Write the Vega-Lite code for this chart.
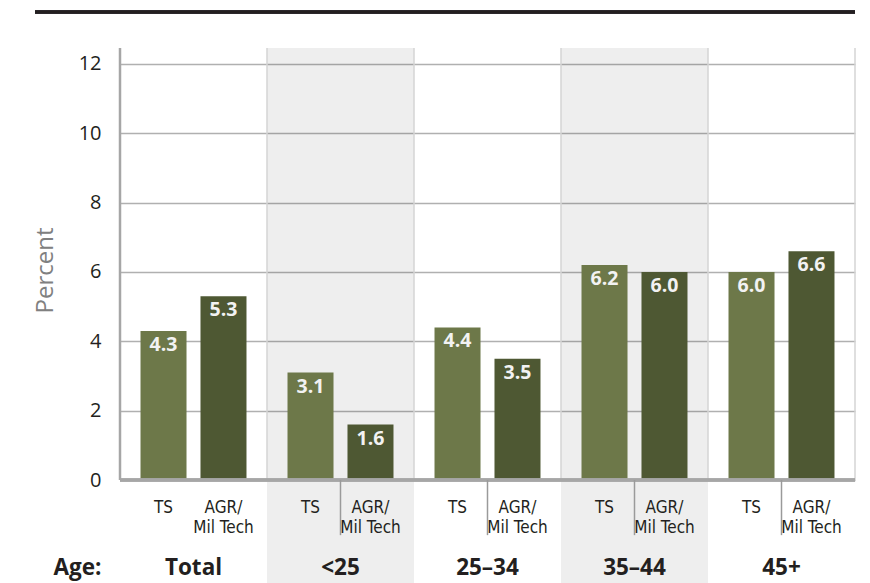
{
  "$schema": "https://vega.github.io/schema/vega-lite/v6.json",
  "width": 735,
  "height": 535,
  "autosize": "none",
  "padding": {"left": 120, "top": 48, "right": 15, "bottom": 0},
  "background": "white",
  "config": {"view": {"stroke": null}},
  "data": {
    "values": [
      {"group": "Total", "series": "TS", "value": 4.3},
      {"group": "Total", "series": "AGR/\nMil Tech", "value": 5.3},
      {"group": "<25", "series": "TS", "value": 3.1},
      {"group": "<25", "series": "AGR/\nMil Tech", "value": 1.6},
      {"group": "25–34", "series": "TS", "value": 4.4},
      {"group": "25–34", "series": "AGR/\nMil Tech", "value": 3.5},
      {"group": "35–44", "series": "TS", "value": 6.2},
      {"group": "35–44", "series": "AGR/\nMil Tech", "value": 6.0},
      {"group": "45+", "series": "TS", "value": 6.0},
      {"group": "45+", "series": "AGR/\nMil Tech", "value": 6.6}
    ]
  },
  "layer": [
    {
      "transform": [{"filter": "(datum.group === '<25' || datum.group === '35–44') && datum.series === 'TS'"}],
      "mark": {"type": "rect", "fill": "#000000", "opacity": 0.067},
      "encoding": {
        "x": {"field": "group", "type": "nominal", "sort": null, "scale": {"domain": ["Total", "<25", "25–34", "35–44", "45+"], "paddingInner": 0, "paddingOuter": 0}, "axis": null},
        "y": {"datum": -2.97},
        "y2": {"datum": 12.46}
      }
    },
    {
      "transform": [{"filter": "datum.group !== 'Total' && datum.series === 'TS'"}],
      "mark": {"type": "rule", "color": "#d4d4d4", "strokeWidth": 1.5},
      "encoding": {
        "x": {"field": "group", "type": "nominal", "bandPosition": 0},
        "y": {"datum": 0},
        "y2": {"datum": 12.46}
      }
    },
    {
      "transform": [{"filter": "datum.group === '45+' && datum.series === 'TS'"}],
      "mark": {"type": "rule", "color": "#d4d4d4", "strokeWidth": 1.5},
      "encoding": {
        "x": {"field": "group", "type": "nominal", "bandPosition": 1},
        "y": {"datum": 0},
        "y2": {"datum": 12.46}
      }
    },
    {
      "mark": {"type": "bar"},
      "encoding": {
        "x": {"field": "group", "type": "nominal"},
        "xOffset": {"field": "series", "type": "nominal", "scale": {"domain": ["TS", "AGR/\nMil Tech"], "paddingInner": 0.233, "paddingOuter": 0.342}},
        "y": {
          "field": "value", "type": "quantitative",
          "scale": {"domain": [-2.97, 12.46], "nice": false, "zero": false},
          "axis": {
            "values": [0, 2, 4, 6, 8, 10, 12],
            "domain": false, "ticks": false, "grid": true,
            "gridColor": "#b0b0b0", "gridWidth": 1.5,
            "labelFont": "Open Sans", "labelFontSize": 20, "labelColor": "#231f20", "labelPadding": 19,
            "title": "Percent", "titleFont": "Open Sans", "titleFontSize": 24, "titleFontWeight": "normal", "titleColor": "#808080",
            "titleX": -63, "titleY": 222, "titleAngle": -90, "titleAlign": "center", "titleBaseline": "bottom"
          }
        },
        "color": {"field": "series", "type": "nominal", "scale": {"domain": ["TS", "AGR/\nMil Tech"], "range": ["#6d7849", "#4e5833"]}, "legend": null}
      }
    },
    {
      "mark": {"type": "text", "baseline": "top", "dy": 5, "font": "Open Sans", "fontSize": 19.5, "fontWeight": "bold", "color": "#f2f2f2"},
      "encoding": {
        "x": {"field": "group", "type": "nominal"},
        "xOffset": {"field": "series", "type": "nominal"},
        "y": {"field": "value", "type": "quantitative"},
        "text": {"field": "value", "type": "quantitative", "format": ".1f"}
      }
    },
    {
      "mark": {"type": "rule", "color": "#a6a6a6", "strokeWidth": 2.5},
      "encoding": {"y": {"datum": 0}}
    },
    {
      "transform": [{"filter": "datum.group === 'Total' && datum.series === 'TS'"}],
      "mark": {"type": "rule", "color": "#a6a6a6", "strokeWidth": 2.5},
      "encoding": {
        "x": {"field": "group", "type": "nominal", "bandPosition": 0},
        "y": {"datum": 0},
        "y2": {"datum": 12.46}
      }
    },
    {
      "transform": [{"filter": "datum.group !== 'Total' && datum.series === 'TS'"}],
      "mark": {"type": "rule", "color": "#9a9a9a", "strokeWidth": 1.5},
      "encoding": {
        "x": {"field": "group", "type": "nominal"},
        "y": {"datum": 0},
        "y2": {"datum": -1.59}
      }
    },
    {
      "mark": {"type": "text", "baseline": "alphabetic", "lineBreak": "\n", "lineHeight": 20, "font": "Liberation Sans Narrow, DejaVu Sans Condensed, sans-serif", "fontSize": 17, "color": "#231f20"},
      "encoding": {
        "x": {"field": "group", "type": "nominal"},
        "xOffset": {"field": "series", "type": "nominal"},
        "y": {"datum": -0.952},
        "text": {"field": "series", "type": "nominal"}
      }
    },
    {
      "transform": [{"filter": "datum.series === 'TS'"}],
      "mark": {"type": "text", "baseline": "alphabetic", "font": "Open Sans", "fontSize": 22.5, "fontWeight": "bold", "color": "#231f20"},
      "encoding": {
        "x": {"field": "group", "type": "nominal"},
        "y": {"datum": -2.74},
        "text": {"field": "group", "type": "nominal"}
      }
    },
    {
      "transform": [{"filter": "datum.group === 'Total' && datum.series === 'TS'"}],
      "mark": {"type": "text", "baseline": "alphabetic", "font": "Open Sans", "fontSize": 22.5, "fontWeight": "bold", "color": "#231f20"},
      "encoding": {
        "x": {"field": "group", "type": "nominal", "bandPosition": -0.289},
        "y": {"datum": -2.74},
        "text": {"value": "Age:"}
      }
    },
    {
      "mark": {"type": "rule", "color": "#231f20", "strokeWidth": 2.5, "clip": false},
      "encoding": {
        "x": {"datum": "Total", "bandPosition": -0.578},
        "x2": {"datum": "45+", "bandPosition": 1},
        "y": {"datum": 13.5}
      }
    }
  ]
}
